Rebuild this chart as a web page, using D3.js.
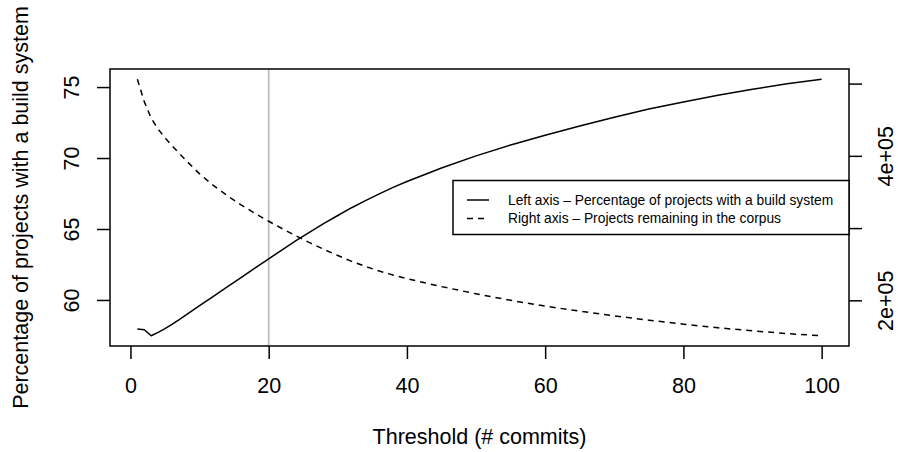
<!DOCTYPE html>
<html>
<head>
<meta charset="utf-8">
<script src="https://cdn.jsdelivr.net/npm/d3@7"></script>
<style>
  body { margin: 0; background: #fff; }
  svg { display: block; }
  text { font-family: "Liberation Sans", Arial, Helvetica, sans-serif; fill: #000; }
</style>
</head>
<body>
<svg id="chart" width="898" height="452"></svg>
<script>
// Commit threshold (minimum # commits for a project to stay in the corpus)
const thresholds = [1, 2, 3, 4, 5, 6, 7, 8, 10, 12, 14, 16, 18, 20, 22, 24, 26, 28, 30,
  32, 34, 36, 38, 40, 45, 50, 55, 60, 65, 70, 75, 80, 85, 90, 95, 100];

// Left axis: percentage of projects with a build system
const buildSystemPct = [57.95, 57.9, 57.48, 57.72, 57.98, 58.28, 58.6, 58.94, 59.6, 60.26,
  60.92, 61.58, 62.24, 62.9, 63.55, 64.2, 64.8, 65.4, 65.95, 66.5, 67.0, 67.47, 67.93,
  68.35, 69.3, 70.15, 70.92, 71.6, 72.25, 72.88, 73.45, 73.95, 74.42, 74.85, 75.23, 75.55];

// Right axis: projects remaining in the corpus
const projectsRemaining = [506000, 475000, 452000, 437000, 425000, 414000, 404000, 394000,
  375000, 359000, 345000, 332000, 320500, 309500, 299000, 289000, 279500, 270500, 262000,
  254000, 247000, 240500, 235000, 230000, 219000, 209000, 200000, 192000, 185000, 178500,
  172500, 167000, 162000, 157750, 154000, 151000];

const xTicks = [0, 20, 40, 60, 80, 100];
const leftTicks = [60, 65, 70, 75];
const rightTicks = [200000, 300000, 400000, 500000];
const rightLabelled = [200000, 400000];
const markedThreshold = 20;

const xTitle = "Threshold (# commits)";
const yTitle = "Percentage of projects with a build system";
const legendLabels = [
  "Left axis \u2013 Percentage of projects with a build system",
  "Right axis \u2013 Projects remaining in the corpus"
];

// Plot region
const plot = { left: 110, right: 849, top: 69, bottom: 346 };
const tickLen = 13;
const lw = 1.5;
const axisFont = 21.5;

// Pad a data extent by 4% on each side
function padded(values) {
  const [lo, hi] = d3.extent(values);
  const r = hi - lo;
  return [lo - 0.04 * r, hi + 0.04 * r];
}

// Scientific labels such as 2e+05
function sci(v) {
  const [m, e] = v.toExponential(0).split("e");
  const sign = e[0] === "-" ? "-" : "+";
  const digits = e.replace(/[+-]/, "").padStart(2, "0");
  return m + "e" + sign + digits;
}

const x = d3.scaleLinear().domain(padded(thresholds)).range([plot.left, plot.right]);
const yL = d3.scaleLinear().domain(padded(buildSystemPct)).range([plot.bottom, plot.top]);
const yR = d3.scaleLinear().domain(padded(projectsRemaining)).range([plot.bottom, plot.top]);

const svg = d3.select("#chart");
svg.append("rect").attr("width", 898).attr("height", 452).attr("fill", "#fff");

// Vertical reference line at the chosen threshold
svg.append("line")
  .attr("x1", x(markedThreshold)).attr("x2", x(markedThreshold))
  .attr("y1", plot.top).attr("y2", plot.bottom)
  .attr("stroke", "#bebebe").attr("stroke-width", 1.8);

const rows = d3.zip(thresholds, buildSystemPct, projectsRemaining);

svg.append("path")
  .datum(rows)
  .attr("fill", "none").attr("stroke", "#000").attr("stroke-width", lw)
  .attr("stroke-linejoin", "round")
  .attr("d", d3.line().x(d => x(d[0])).y(d => yL(d[1])));

svg.append("path")
  .datum(rows)
  .attr("fill", "none").attr("stroke", "#000").attr("stroke-width", lw)
  .attr("stroke-dasharray", "6,5")
  .attr("d", d3.line().x(d => x(d[0])).y(d => yR(d[2])));

// Frame
svg.append("rect")
  .attr("x", plot.left).attr("y", plot.top)
  .attr("width", plot.right - plot.left).attr("height", plot.bottom - plot.top)
  .attr("fill", "none").attr("stroke", "#000").attr("stroke-width", lw);

function styleAxis(g) {
  g.select(".domain").remove();
  g.selectAll(".tick line").attr("stroke", "#000").attr("stroke-width", lw);
  g.selectAll(".tick text").attr("font-size", axisFont).attr("font-family", null);
}

// Bottom axis
const gx = svg.append("g")
  .attr("transform", `translate(0,${plot.bottom})`)
  .call(d3.axisBottom(x).tickValues(xTicks).tickSize(tickLen).tickSizeOuter(0));
styleAxis(gx);
gx.selectAll(".tick text").attr("y", 46.5).attr("dy", null);

// Left axis, labels parallel to the axis
const gl = svg.append("g")
  .attr("transform", `translate(${plot.left},0)`)
  .call(d3.axisLeft(yL).tickValues(leftTicks).tickSize(tickLen).tickSizeOuter(0));
styleAxis(gl);
gl.selectAll(".tick text")
  .attr("x", null).attr("dy", null)
  .attr("text-anchor", "middle")
  .attr("transform", "translate(-31,0) rotate(-90)");

// Right axis, only some ticks labelled
const gr = svg.append("g")
  .attr("transform", `translate(${plot.right},0)`)
  .call(d3.axisRight(yR).tickValues(rightTicks).tickSize(tickLen).tickSizeOuter(0)
    .tickFormat(v => rightLabelled.includes(v) ? sci(v) : ""));
styleAxis(gr);
gr.selectAll(".tick text")
  .attr("x", null).attr("dy", null)
  .attr("text-anchor", "middle")
  .attr("transform", "translate(44,0) rotate(-90)");

// Axis titles
svg.append("text")
  .attr("x", (plot.left + plot.right) / 2).attr("y", 443.5)
  .attr("text-anchor", "middle").attr("font-size", axisFont)
  .text(xTitle);

svg.append("text")
  .attr("transform", `translate(28,${(plot.top + plot.bottom) / 2}) rotate(-90)`)
  .attr("text-anchor", "middle").attr("font-size", axisFont)
  .text(yTitle);

// Legend, anchored to the right edge of the plot
const legendW = 396, legendH = 54;
const lg = svg.append("g")
  .attr("transform", `translate(${plot.right - legendW},${(plot.top + plot.bottom) / 2 - legendH / 2})`);
lg.append("rect")
  .attr("width", legendW).attr("height", legendH)
  .attr("fill", "#fff").attr("stroke", "#000").attr("stroke-width", lw);
const dashes = [null, "6,5"];
legendLabels.forEach((label, i) => {
  const cy = 19.5 + i * 18.4;
  lg.append("line")
    .attr("x1", 14).attr("x2", 36).attr("y1", cy).attr("y2", cy)
    .attr("stroke", "#000").attr("stroke-width", lw)
    .attr("stroke-dasharray", dashes[i]);
  lg.append("text")
    .attr("x", 55).attr("y", cy + 4.6)
    .attr("font-size", 13.8)
    .text(label);
});
</script>
</body>
</html>
